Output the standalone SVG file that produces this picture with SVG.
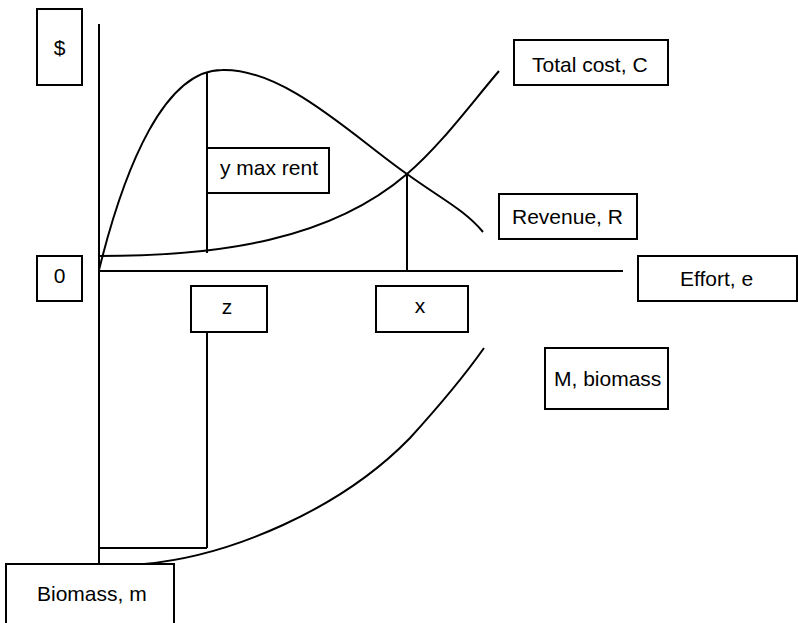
<svg xmlns="http://www.w3.org/2000/svg" width="798" height="623" viewBox="0 0 798 623">
<style>
.box{fill:#fff;stroke:#000;stroke-width:2}
.ln{fill:none;stroke:#000;stroke-width:2}
text{font-family:"Liberation Sans",Arial,sans-serif;font-size:21px;fill:#000}
</style>
<rect width="798" height="623" fill="#fff"/>
<g id="connectors">
<line class="ln" x1="99" y1="24" x2="99" y2="564"/>
<line class="ln" x1="99" y1="271" x2="623" y2="271"/>
<line class="ln" x1="207" y1="73" x2="207" y2="253"/>
<line class="ln" x1="407" y1="174" x2="407" y2="271"/>
<line class="ln" x1="207" y1="332" x2="207" y2="548"/>
<line class="ln" x1="99" y1="548" x2="207" y2="548"/>
<path id="revenue" class="ln" d="M99,270 C125,165 165,70 222,70 C285,68 355,138 407,174 C440,198 465,210 483,232"/>
<path id="cost" class="ln" d="M99,256 C220,256 330,240 407,174 C440,146 470,105 499,71"/>
<path id="biomass" class="ln" d="M144,564 C230,556 340,510 410,438 C440,405 465,375 484,348"/>
</g>
<g id="n-dollar"><rect class="box" x="37" y="9" width="45" height="76"/><text x="59.5" y="55" text-anchor="middle">$</text></g>
<g id="n-zero"><rect class="box" x="37" y="256" width="45" height="45"/><text x="59.5" y="283" text-anchor="middle">0</text></g>
<g id="n-ymax"><rect class="box" x="207" y="148" width="122" height="45"/><text x="220" y="175">y max rent</text></g>
<g id="n-cost"><rect class="box" x="514" y="40" width="154" height="45"/><text x="532" y="72">Total cost, C</text></g>
<g id="n-revenue"><rect class="box" x="499" y="194" width="138" height="45"/><text x="512" y="224">Revenue, R</text></g>
<g id="n-effort"><rect class="box" x="638" y="256" width="159" height="45"/><text x="680" y="286">Effort, e</text></g>
<g id="n-z"><rect class="box" x="191" y="286" width="76" height="46"/><text x="227" y="314" text-anchor="middle">z</text></g>
<g id="n-x"><rect class="box" x="376" y="286" width="92" height="46"/><text x="420" y="313" text-anchor="middle">x</text></g>
<g id="n-mbiomass"><rect class="box" x="545" y="348" width="123" height="61"/><text x="554" y="386">M, biomass</text></g>
<g id="n-biomass"><rect class="box" x="6" y="564" width="168" height="70"/><text x="37" y="601">Biomass, m</text></g>
</svg>
